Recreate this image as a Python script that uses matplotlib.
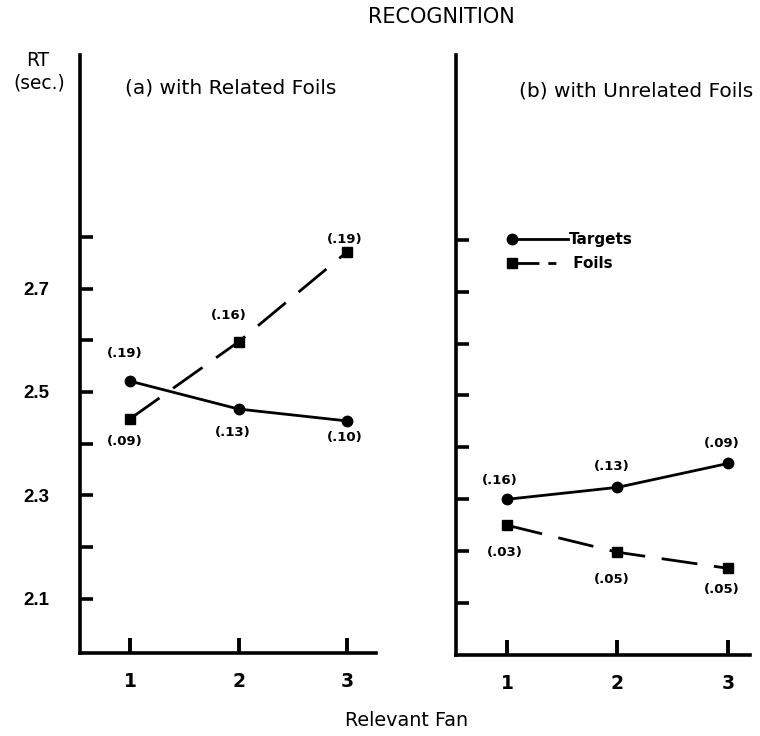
import numpy as np
import matplotlib
matplotlib.use("Agg")
import matplotlib.pyplot as plt
from matplotlib.legend_handler import HandlerLine2D
from matplotlib.lines import Line2D

plt.rcParams['font.family'] = ['DejaVu Sans']

# ---- data ----
fan = [1, 2, 3]
related_targets = [2.521, 2.467, 2.444]
related_foils = [2.448, 2.597, 2.771]
unrelated_targets = [2.300, 2.323, 2.369]
unrelated_foils = [2.250, 2.198, 2.167]

related_targets_sd = ["(.19)", "(.13)", "(.10)"]
related_foils_sd = ["(.09)", "(.16)", "(.19)"]
unrelated_targets_sd = ["(.16)", "(.13)", "(.09)"]
unrelated_foils_sd = ["(.03)", "(.05)", "(.05)"]

y_ticks = [2.1, 2.2, 2.3, 2.4, 2.5, 2.6, 2.7, 2.8]
y_ticklabels = ["2.1", "", "2.3", "", "2.5", "", "2.7", ""]
x_ticklabels = ["1", "2", "3"]

W, H = 760, 736
fig = plt.figure(figsize=(W / 100, H / 100), dpi=100)


def px_axes(x0, y0, x1, y1):
    return fig.add_axes([x0 / W, 1 - y1 / H, (x1 - x0) / W, (y1 - y0) / H])


axL = px_axes(80, 55, 376, 653)
axR = px_axes(456, 55, 750, 655)

lw = 2.0
dash = (0, (13, 6))
for ax in (axL, axR):
    for s in ("top", "right"):
        ax.spines[s].set_visible(False)
    for s in ("left", "bottom"):
        ax.spines[s].set_linewidth(2.6)
        ax.spines[s].set_color("black")
    ax.set_yticks(y_ticks)
    ax.set_xticks(fan)
    ax.tick_params(axis="y", direction="in", length=9, width=2.6, pad=22)
    ax.tick_params(axis="x", direction="in", length=11, width=2.8, pad=14)
    ax.set_xticklabels(x_ticklabels, fontweight="bold", fontsize=13.5,
                       family="DejaVu Sans")

axL.set_ylim(1.995, 3.152)
axL.set_xlim(0.539, 3.267)
axR.set_ylim(2.0, 3.156)
axR.set_xlim(0.538, 3.2)
axL.set_yticklabels(y_ticklabels, family=["Liberation Sans"], fontsize=13.5,
                    fontweight="bold")
axR.set_yticklabels([""] * len(y_ticks))

# data lines
tL, = axL.plot(fan, related_targets, color="black", lw=lw, marker="o", ms=7.5)
fL, = axL.plot(fan, related_foils, color="black", lw=lw, ls=dash, marker="s", ms=7.5)
tR, = axR.plot(fan, unrelated_targets, color="black", lw=lw, marker="o", ms=7.5)
fR, = axR.plot(fan, unrelated_foils, color="black", lw=lw, ls=dash, marker="s", ms=7.5)

ann_kw = dict(textcoords="offset pixels", ha="center", va="center",
              fontsize=9.5, fontweight="bold")


def annotate(ax, ys, labels, offsets):
    for x, y, lab, (dx, dy) in zip(fan, ys, labels, offsets):
        ax.annotate(lab, (x, y), xytext=(dx, dy), **ann_kw)


annotate(axL, related_targets, related_targets_sd, [(-5, 28), (-6, -23), (-2, -17)])
annotate(axL, related_foils, related_foils_sd, [(-5, -23), (-10, 26), (-2, 12)])
annotate(axR, unrelated_targets, unrelated_targets_sd, [(-7, 19), (-6, 21), (-6, 20)])
annotate(axR, unrelated_foils, unrelated_foils_sd, [(-2, -27), (-6, -27), (-6, -21)])

# panel titles
fig.text(231 / W, 1 - 88 / H, "(a) with Related Foils", fontsize=14.5,
         ha="center", va="center")
fig.text(636 / W, 1 - 91 / H, "(b) with Unrelated Foils", fontsize=14.5,
         ha="center", va="center")


# legend with the marker at the left end of the handle
class LeftMarkerHandler(HandlerLine2D):
    def create_artists(self, legend, orig_handle, xdescent, ydescent,
                       width, height, fontsize, trans):
        yc = (height - ydescent) / 2
        line = Line2D([-xdescent, -xdescent + width], [yc, yc])
        self.update_prop(line, orig_handle, legend)
        line.set_markevery([0])
        if orig_handle.get_linestyle() not in ("-", "solid"):
            line.set_linestyle((0, (9.7, 3.2, 2.9, 20)))
        line.set_transform(trans)
        return [line]


leg = axR.legend([tR, fR], ["Targets", " Foils"], loc="upper left",
                 bbox_to_anchor=(0.19, 0.705), frameon=False, borderpad=0,
                 borderaxespad=0, handlelength=3.7, handletextpad=0.0,
                 labelspacing=0.6, prop=dict(size=11, weight="bold"),
                 handler_map={tR: LeftMarkerHandler(), fR: LeftMarkerHandler()})

# figure texts
fig.text(441 / W, 1 - 17 / H, "RECOGNITION", ha="center", va="center", fontsize=15)
fig.text(407 / W, 1 - 720 / H, "Relevant Fan", ha="center", va="center", fontsize=13.8)
fig.text(38 / W, 1 - 61 / H, "RT", ha="center", va="center", fontsize=13.4)
fig.text(39 / W, 1 - 83 / H, "(sec.)", ha="center", va="center", fontsize=13.4)

fig.savefig("out.png", dpi=100)
